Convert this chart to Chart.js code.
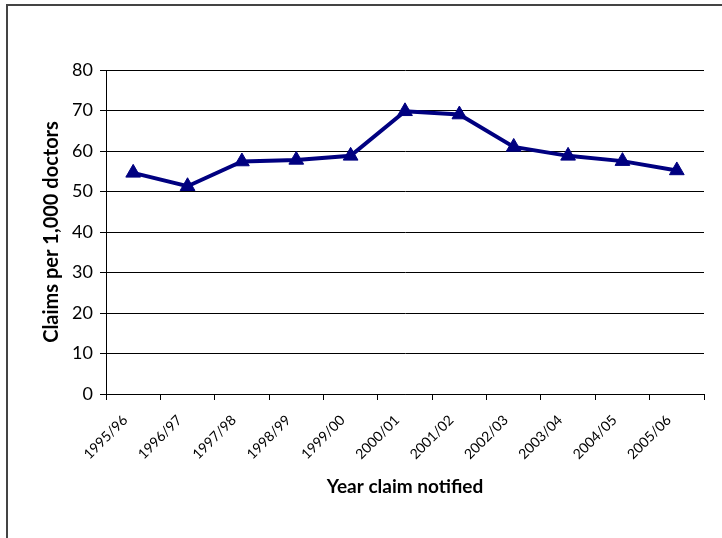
<!DOCTYPE html>
<html>
<head>
<meta charset="utf-8">
<script src="https://cdn.jsdelivr.net/npm/chart.js@4.4.0/dist/chart.umd.min.js"></script>
<style>
    html, body { margin: 0; padding: 0; background: #fff; overflow: hidden; }
    #frame {
        position: absolute; left: 6px; top: 4px;
        width: 800px; height: 600px;
        border: 2px solid #444;
    }
    #wrap { position: absolute; left: 0; top: 0; width: 722px; height: 538px; }
</style>
</head>
<body>
<div id="frame"></div>
<div id="wrap"><canvas id="chart"></canvas></div>
<script>
// Data
const years = ['1995/96', '1996/97', '1997/98', '1998/99', '1999/00', '2000/01',
               '2001/02', '2002/03', '2003/04', '2004/05', '2005/06'];
const claimsPer1000 = [54.6, 51.3, 57.4, 57.8, 58.8, 69.8, 69.0, 61.0, 58.8, 57.5, 55.2];
const yTicks = [0, 10, 20, 30, 40, 50, 60, 70, 80];

const fontFamily = 'Lato, "Open Sans", sans-serif';

document.addEventListener('DOMContentLoaded', () => {
    const ctx = document.getElementById('chart').getContext('2d');
    new Chart(ctx, {
        type: 'line',
        data: {
            labels: years,
            datasets: [{
                label: 'Claims per 1,000 doctors',
                data: claimsPer1000,
                borderColor: '#000080',
                backgroundColor: '#000080',
                borderWidth: 4,
                pointStyle: 'triangle',
                pointRadius: 8.5,
                pointHoverRadius: 8.5,
                pointBorderWidth: 1,
                tension: 0,
                fill: false
            }]
        },
        options: {
            responsive: true,
            maintainAspectRatio: false,
            animation: false,
            layout: { padding: { left: 34, top: 70, right: 18, bottom: 40 } },
            plugins: {
                legend: { display: false },
                tooltip: { enabled: false }
            },
            scales: {
                x: {
                    offset: true,
                    afterFit: (scale) => { scale.height = 104; },
                    grid: {
                        offset: true,
                        drawOnChartArea: false,
                        drawTicks: true,
                        tickLength: 6,
                        color: '#000'
                    },
                    border: { display: true, color: '#000', width: 1 },
                    ticks: {
                        minRotation: 45,
                        maxRotation: 45,
                        autoSkip: false,
                        padding: 12,
                        labelOffset: -8,
                        color: '#000',
                        font: { family: fontFamily, size: 14 }
                    },
                    title: {
                        display: true,
                        text: 'Year claim notified',
                        color: '#000',
                        padding: { top: 1, bottom: 0 },
                        font: { family: fontFamily, size: 19, weight: 'bold' }
                    }
                },
                y: {
                    min: 0,
                    max: 80,
                    afterFit: (scale) => { scale.width = 72; },
                    afterBuildTicks: (scale) => { scale.ticks = yTicks.map(v => ({ value: v })); },
                    grid: {
                        color: '#000',
                        lineWidth: 1,
                        drawTicks: true,
                        tickLength: 6
                    },
                    border: { display: true, color: '#000', width: 1 },
                    ticks: {
                        padding: 7,
                        color: '#000',
                        font: { family: fontFamily, size: 18 }
                    },
                    title: {
                        display: true,
                        text: 'Claims per 1,000 doctors',
                        color: '#000',
                        padding: { top: 6, bottom: 0 },
                        font: { family: fontFamily, size: 20, weight: 'bold' }
                    }
                }
            }
        }
    });
});
</script>
</body>
</html>
